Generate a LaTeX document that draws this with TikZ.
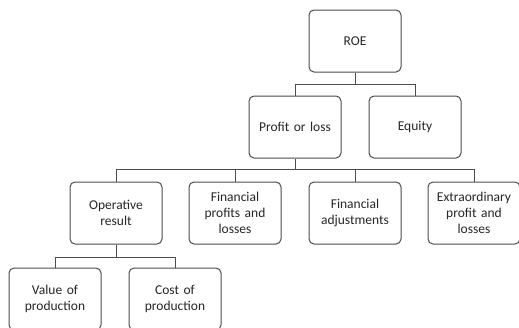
\documentclass[tikz,border=0pt]{standalone}
\usepackage{fontspec}
\setmainfont{Carlito}
\usepackage{tikz}
\usetikzlibrary{calc}

\tikzset{
  box/.style={draw=black!70,line width=1pt,rounded corners=5pt,fill=white,
    minimum width=92pt,minimum height=62pt,text width=86pt,align=center,
    inner sep=2pt,font=\fontsize{13.5}{15.7}\selectfont,text=black!85},
  link/.style={draw=black!70,line width=1pt}
}

\begin{document}
\begin{tikzpicture}[x=1pt,y=-1pt]
\useasboundingbox (0,0) rectangle (519,327);
% top of the tree
\node[box] (roe) at (355,41) {ROE};
\node[box] (pl) at (295,127) {Profit or loss};
\node[box] (eq) at (415,127) {Equity};
% level of the result
\node[box] (op) at (116,213) {Operative\\result};
\node[box] (fpl) at (235,213) {Financial\\profits and\\losses};
\node[box] (fa) at (355,213) {Financial\\adjustments};
\node[box] (epl) at (474,213) {Extraordinary\\profit and\\losses};
% production
\node[box] (vp) at (55,299) {Value of\\production};
\node[box] (cp) at (175,299) {Cost of\\production};
% joints
\coordinate (j1) at ($(roe.south)+(0,12)$);
\coordinate (j2) at ($(pl.south)+(0,11)$);
\coordinate (j3) at ($(op.south)+(0,13)$);
\draw[link] (roe.south) -- (j1) (pl.north) |- (j1) -| (eq.north);
\draw[link] (pl.south) -- (j2) (op.north) |- (j2) -| (epl.north);
\draw[link] (fpl.north) -- (fpl.north |- j2) (fa.north) -- (fa.north |- j2);
\draw[link] (op.south) -- (j3) (vp.north) |- (j3) -| (cp.north);
\end{tikzpicture}
\end{document}
